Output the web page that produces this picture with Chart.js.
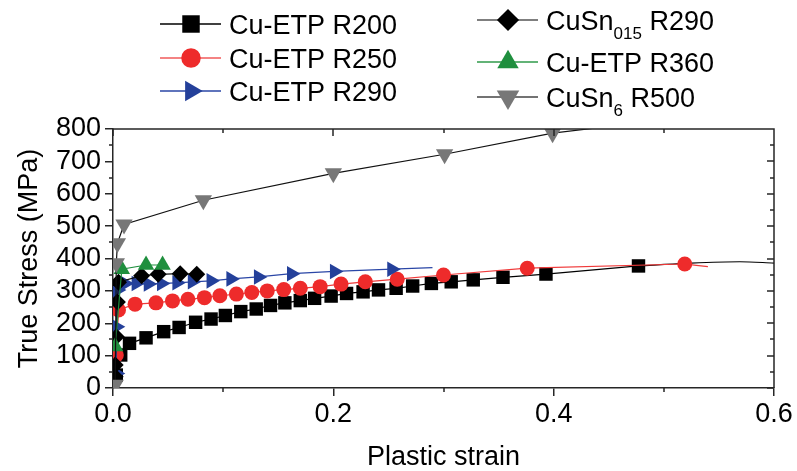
<!DOCTYPE html>
<html>
<head>
<meta charset="utf-8">
<script src="https://cdn.jsdelivr.net/npm/chart.js@4.4.1/dist/chart.umd.min.js"></script>
<style>
  html, body { margin: 0; padding: 0; background: #fff; }
  #wrap { width: 797px; height: 471px; position: relative; }
</style>
</head>
<body>
<div id="wrap"><canvas id="c" width="797" height="471"></canvas></div>
<script>
// ---- measured flow curves: plastic strain vs true stress (MPa) ----
const r200Strain = [0.003, 0.007, 0.015, 0.030, 0.046, 0.060, 0.075, 0.089, 0.102, 0.116, 0.130, 0.143, 0.156, 0.170, 0.183, 0.198, 0.212, 0.227, 0.241, 0.257, 0.272, 0.289, 0.307, 0.327, 0.354, 0.393, 0.477];
const r200Stress = [40, 102, 138, 155, 174, 187, 203, 213, 224, 236, 244, 255, 263, 270, 277, 284, 292, 297, 303, 308, 315, 323, 328, 334, 342, 352, 377];
const r200TailStrain = [0.477, 0.520, 0.569, 0.600];
const r200TailStress = [377, 385, 390, 386];

const r250Strain = [0.003, 0.005, 0.020, 0.039, 0.054, 0.068, 0.083, 0.097, 0.112, 0.126, 0.140, 0.155, 0.170, 0.188, 0.207, 0.229, 0.258, 0.300, 0.376, 0.519];
const r250Stress = [102, 241, 259, 263, 269, 274, 279, 285, 290, 295, 300, 304, 308, 313, 321, 328, 336, 349, 370, 383];
const r250TailStrain = [0.519, 0.540];
const r250TailStress = [383, 375];

const r290Strain = [0.003, 0.003, 0.004, 0.011, 0.021, 0.032, 0.044, 0.058, 0.072, 0.089, 0.107, 0.132, 0.162, 0.201, 0.253];
const r290Stress = [45, 189, 303, 323, 323, 321, 323, 325, 328, 331, 337, 343, 353, 360, 367];
const r290TailStrain = [0.253, 0.290];
const r290TailStress = [367, 372];

const cusn015Strain = [0.002, 0.002, 0.003, 0.004, 0.005, 0.026, 0.041, 0.061, 0.076];
const cusn015Stress = [35, 71, 158, 266, 327, 347, 351, 353, 351];

const r360Strain = [0.002, 0.008, 0.030, 0.045];
const r360Stress = [128, 367, 380, 380];

const cusn6Strain = [0.002, 0.003, 0.004, 0.010, 0.082, 0.200, 0.301, 0.399];
const cusn6Stress = [10, 385, 447, 505, 580, 663, 722, 787];
const cusn6TailStrain = [0.399, 0.450];
const cusn6TailStress = [787, 808];

// ---- axes ----
const xTicks = [0, 0.2, 0.4, 0.6];
const xTickLabels = ['0.0', '0.2', '0.4', '0.6'];
const xMinor = [0.1, 0.3, 0.5];
const yTicks = [0, 100, 200, 300, 400, 500, 600, 700, 800];
const yTickLabels = ['0', '100', '200', '300', '400', '500', '600', '700', '800'];
const yMinor = [50, 150, 250, 350, 450, 550, 650, 750];

const FONT = '"Liberation Sans", Arial, Helvetica, sans-serif';
const AXIS = '#262626';
const TEXT_SIZE = 27;

const pts = (xs, ys) => xs.map((v, i) => ({ x: v, y: ys[i] }));

const series = [
  { label: 'Cu-ETP R200', x: r200Strain, y: r200Stress, tx: r200TailStrain, ty: r200TailStress,
    style: 'rect', rot: 0, r: 9.5, fill: '#000000', line: '#000000', legendLine: '#000000', order: 6 },
  { label: 'Cu-ETP R250', x: r250Strain, y: r250Stress, tx: r250TailStrain, ty: r250TailStress,
    style: 'circle', rot: 0, r: 7.5, fill: '#ee2b2b', line: '#f03a3a', legendLine: '#f05a5a', order: 5 },
  { label: 'Cu-ETP R290', x: r290Strain, y: r290Stress, tx: r290TailStrain, ty: r290TailStress,
    style: 'triangle', rot: 90, r: 9, fill: '#24409a', line: '#2a46a6', legendLine: '#2a46a6', order: 4 },
  { label: 'CuSn015 R290', x: cusn015Strain, y: cusn015Stress,
    style: 'rectRot', rot: 0, r: 8.5, fill: '#000000', line: '#111111', legendLine: '#555555', order: 3 },
  { label: 'Cu-ETP R360', x: r360Strain, y: r360Stress,
    style: 'triangle', rot: 0, r: 9.5, fill: '#1f8f3e', line: '#1f8f3e', legendLine: '#2f9a4a', order: 2 },
  { label: 'CuSn6 R500', x: cusn6Strain, y: cusn6Stress, tx: cusn6TailStrain, ty: cusn6TailStress,
    style: 'triangle', rot: 180, r: 10, fill: '#777777', line: '#111111', legendLine: '#444444', order: 1 }
];

const datasets = [];
series.forEach(s => {
  datasets.push({
    label: s.label,
    data: pts(s.x, s.y),
    showLine: true,
    borderColor: s.line,
    borderWidth: 1.2,
    tension: 0,
    pointStyle: s.style,
    pointRotation: s.rot,
    pointRadius: s.r,
    pointHoverRadius: s.r,
    pointBackgroundColor: s.fill,
    pointBorderColor: s.fill,
    pointBorderWidth: 0,
    order: s.order
  });
  if (s.tx) {
    datasets.push({
      label: s.label + ' fit',
      data: pts(s.tx, s.ty),
      showLine: true,
      borderColor: s.line,
      borderWidth: 1.2,
      tension: 0.4,
      cubicInterpolationMode: 'monotone',
      pointRadius: 0,
      order: 10
    });
  }
});

// ---- legend with line-through-marker samples and subscripts ----
const legendItems = [
  { s: 0, lx: 160, ly: 24, parts: [{ t: 'Cu-ETP R200' }] },
  { s: 1, lx: 160, ly: 58, parts: [{ t: 'Cu-ETP R250' }] },
  { s: 2, lx: 160, ly: 91, parts: [{ t: 'Cu-ETP R290' }] },
  { s: 3, lx: 477, ly: 20, parts: [{ t: 'CuSn' }, { t: '015', sub: true }, { t: ' R290' }] },
  { s: 4, lx: 477, ly: 62, parts: [{ t: 'Cu-ETP R360' }] },
  { s: 5, lx: 477, ly: 97, parts: [{ t: 'CuSn' }, { t: '6', sub: true }, { t: ' R500' }] }
];

function drawMarker(ctx, style, rotDeg, r, x, y, fill) {
  ctx.save();
  ctx.translate(x, y);
  ctx.rotate(rotDeg * Math.PI / 180);
  ctx.fillStyle = fill;
  ctx.beginPath();
  if (style === 'rect') {
    const h = r * Math.SQRT1_2;
    ctx.rect(-h, -h, 2 * h, 2 * h);
  } else if (style === 'circle') {
    ctx.arc(0, 0, r, 0, Math.PI * 2);
  } else if (style === 'rectRot') {
    ctx.moveTo(0, -r); ctx.lineTo(r, 0); ctx.lineTo(0, r); ctx.lineTo(-r, 0);
  } else if (style === 'triangle') {
    ctx.moveTo(0, -r);
    ctx.lineTo(r * Math.cos(Math.PI / 6), r / 2);
    ctx.lineTo(-r * Math.cos(Math.PI / 6), r / 2);
  }
  ctx.closePath();
  ctx.fill();
  ctx.restore();
}

const legendPlugin = {
  id: 'lineLegend',
  afterDraw(chart) {
    const ctx = chart.ctx;
    ctx.save();
    legendItems.forEach(it => {
      const s = series[it.s];
      ctx.strokeStyle = s.legendLine;
      ctx.lineWidth = 1.6;
      ctx.beginPath();
      ctx.moveTo(it.lx, it.ly);
      ctx.lineTo(it.lx + 61, it.ly);
      ctx.stroke();
      drawMarker(ctx, s.style, s.rot, s.r * 1.3, it.lx + 31, it.ly, s.fill);
      let tx = it.lx + 69;
      const base = it.ly + 9.8;
      ctx.fillStyle = '#000';
      ctx.textBaseline = 'alphabetic';
      ctx.textAlign = 'left';
      it.parts.forEach(p => {
        ctx.font = (p.sub ? '17px ' : TEXT_SIZE + 'px ') + FONT;
        ctx.fillText(p.t, tx, p.sub ? base + 9 : base);
        tx += ctx.measureText(p.t).width;
      });
    });
    ctx.restore();
  }
};

// ---- closed frame with mirrored and minor ticks ----
const framePlugin = {
  id: 'frame',
  afterDraw(chart) {
    const { ctx, chartArea: a, scales: { x, y } } = chart;
    ctx.save();
    ctx.strokeStyle = AXIS;
    ctx.lineWidth = 1.5;
    ctx.beginPath();
    ctx.moveTo(a.left, a.top); ctx.lineTo(a.right, a.top); ctx.lineTo(a.right, a.bottom);
    xTicks.forEach(v => {
      const p = Math.round(x.getPixelForValue(v));
      ctx.moveTo(p, a.top); ctx.lineTo(p, a.top + 7);
    });
    xMinor.forEach(v => {
      const p = Math.round(x.getPixelForValue(v));
      ctx.moveTo(p, a.top); ctx.lineTo(p, a.top + 4);
      ctx.moveTo(p, a.bottom); ctx.lineTo(p, a.bottom + 4);
    });
    yTicks.forEach(v => {
      const p = Math.round(y.getPixelForValue(v));
      ctx.moveTo(a.right, p); ctx.lineTo(a.right - 7, p);
    });
    yMinor.forEach(v => {
      const p = Math.round(y.getPixelForValue(v));
      ctx.moveTo(a.right, p); ctx.lineTo(a.right - 4, p);
      ctx.moveTo(a.left, p); ctx.lineTo(a.left - 4, p);
    });
    ctx.stroke();
    ctx.restore();
  }
};

new Chart(document.getElementById('c'), {
  type: 'line',
  data: { datasets },
  options: {
    responsive: false,
    animation: false,
    devicePixelRatio: 1,
    layout: { padding: { top: 129, right: 23, bottom: 0, left: 0 } },
    plugins: { legend: { display: false }, tooltip: { enabled: false } },
    scales: {
      x: {
        type: 'linear',
        min: 0, max: 0.6,
        afterBuildTicks: s => { s.ticks = xTicks.map(v => ({ value: v })); },
        afterFit: s => { s.height = 83; },
        ticks: {
          callback: (v, i) => xTickLabels[i],
          font: { family: FONT, size: TEXT_SIZE },
          color: '#000',
          padding: 2,
          maxRotation: 0,
          autoSkip: false
        },
        grid: { display: true, drawOnChartArea: false, drawTicks: true, tickLength: 8, color: AXIS, lineWidth: 1.5 },
        border: { display: true, color: AXIS, width: 1.5 },
        title: {
          display: true, text: 'Plastic strain', color: '#000',
          font: { family: FONT, size: TEXT_SIZE, lineHeight: 1 },
          padding: { top: 0, bottom: 0 }
        }
      },
      y: {
        type: 'linear',
        min: 0, max: 800,
        afterBuildTicks: s => { s.ticks = yTicks.map(v => ({ value: v })); },
        afterFit: s => { s.width = 113; },
        ticks: {
          callback: (v, i) => yTickLabels[i],
          font: { family: FONT, size: TEXT_SIZE },
          color: '#000',
          padding: 4,
          autoSkip: false
        },
        grid: { display: true, drawOnChartArea: false, drawTicks: true, tickLength: 8, color: AXIS, lineWidth: 1.5 },
        border: { display: true, color: AXIS, width: 1.5 },
        title: {
          display: true, text: 'True Stress (MPa)', color: '#000',
          font: { family: FONT, size: TEXT_SIZE, lineHeight: 1 },
          padding: { top: 16, bottom: 0 }
        }
      }
    }
  },
  plugins: [framePlugin, legendPlugin]
});
</script>
</body>
</html>
